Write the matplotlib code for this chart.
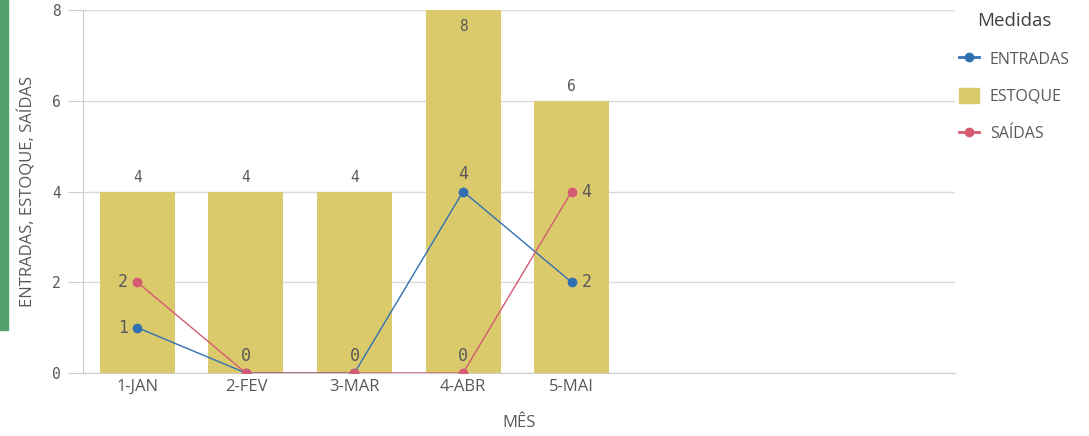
import numpy as np
import matplotlib.pyplot as plt
from matplotlib.lines import Line2D
from matplotlib.patches import Patch, Rectangle

meses = ["1-JAN", "2-FEV", "3-MAR", "4-ABR", "5-MAI"]
entradas = [1, 0, 0, 4, 2]
estoque = [4, 4, 4, 8, 6]
saidas = [2, 0, 0, 0, 4]

c_bar = "#dbca6c"
c_ent = "#3171b2"
c_sai = "#d45b72"
c_txt = "#595959"
mono = "DejaVu Sans Mono"
sans = "Open Sans"

fig = plt.figure(figsize=(10.89, 4.36), dpi=100)
ax = fig.add_axes([83 / 1089, 63 / 436, 872 / 1089, 363 / 436])

x = np.arange(len(meses))
ax.bar(x, estoque, width=0.69, color=c_bar, zorder=2)
ax.plot(x, entradas, color=c_ent, lw=1, marker="o", ms=6, zorder=3)
ax.plot(x, saidas, color=c_sai, lw=1, marker="o", ms=6, zorder=4)

ax.set_xlim(-0.5, 7.53)
ax.set_ylim(0, 8)
ax.set_yticks([0, 2, 4, 6, 8])
ax.set_xticks(x)
ax.set_xticklabels(meses, fontsize=12, color=c_txt, family=sans)
for t in ax.get_yticklabels():
    t.set_family(mono)
    t.set_color(c_txt)
    t.set_fontsize(10.5)
ax.tick_params(axis="y", length=11, color="#cccccc", pad=5)
ax.tick_params(axis="x", length=0, pad=4)
ax.grid(axis="y", color="#d9d9d9", lw=1, zorder=0)
for s in ["top", "right"]:
    ax.spines[s].set_visible(False)
ax.spines["left"].set_color("#cccccc")
ax.spines["bottom"].set_color("#cccccc")

ax.set_xlabel("MÊS", fontsize=12, color=c_txt, family=sans, labelpad=15)
ax.set_ylabel("ENTRADAS, ESTOQUE, SAÍDAS", fontsize=12, color=c_txt,
              family=sans, labelpad=11)

# bar labels
for i, v in enumerate(estoque):
    if v >= 8:
        ax.annotate(str(v), (i, v), xytext=(0, -17), textcoords="offset points",
                    ha="center", va="bottom", fontsize=10.5, color=c_txt, family=mono, zorder=5)
    else:
        ax.annotate(str(v), (i, v), xytext=(0, 5), textcoords="offset points",
                    ha="center", va="bottom", fontsize=10.5, color=c_txt, family=mono, zorder=5)

# line labels
n = len(meses)
for serie, skip_zero in [(entradas, True), (saidas, False)]:
    for i, v in enumerate(serie):
        if v == 0 and skip_zero and saidas[i] == 0:
            continue
        if i == 0:
            off, ha, va = (-7, 0), "right", "center"
        elif i == n - 1:
            off, ha, va = (7, 0), "left", "center"
        else:
            off, ha, va = (0, 6), "center", "bottom"
        ax.annotate(str(v), (i, v), xytext=off, textcoords="offset points",
                    ha=ha, va=va, fontsize=12, color=c_txt, family=mono, zorder=5)

handles = [
    Line2D([], [], color=c_ent, marker="o", ms=6, lw=2),
    Patch(color=c_bar),
    Line2D([], [], color=c_sai, marker="o", ms=6, lw=2),
]
leg = fig.legend(handles, ["ENTRADAS", "ESTOQUE", "SAÍDAS"], title="Medidas",
                 loc="upper left", bbox_to_anchor=(945 / 1089, 1.005), frameon=False,
                 prop={"family": sans, "size": 11.5}, handlelength=1.2,
                 handleheight=1.0, handletextpad=0.7, labelspacing=1.3,
                 alignment="center")
leg.get_title().set_fontsize(13.5)
leg.get_title().set_family(sans)
leg.get_title().set_color("#404040")
for t in leg.get_texts():
    t.set_color(c_txt)

fig.patches.append(Rectangle((0, 106 / 436), 8 / 1089, 330 / 436,
                             transform=fig.transFigure, color="#52a06e"))

fig.savefig("out.png", dpi=100)
